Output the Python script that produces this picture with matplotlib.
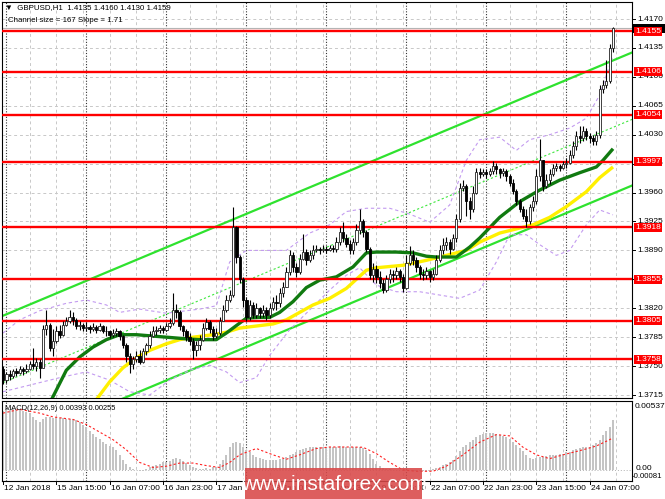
import numpy as np
import matplotlib
matplotlib.use("Agg")
import matplotlib.pyplot as plt
from matplotlib.patches import Rectangle

plt.rcParams['font.family'] = ['Liberation Sans', 'DejaVu Sans']

# prices are kept in pips above 1.3700
BASE = 1.3700
first_open = 47
close_pips = [
    33, 40, 38, 44, 42, 46, 44, 47, 52, 50, 55, 48, 95, 100, 72, 80, 92, 88, 100, 104,
    110, 106, 98, 100, 96, 97, 95, 97, 94, 98, 93, 92, 88, 90, 92, 86, 75, 62, 52, 58,
    62, 55, 68, 75, 86, 92, 94, 96, 94, 98, 102, 118, 115, 98, 92, 85, 80, 70, 75, 82,
    96, 103, 95, 86, 90, 105, 118, 130, 136, 218, 182, 155, 130, 110, 124, 112, 120, 114, 118, 112,
    120, 128, 126, 138, 146, 164, 184, 170, 164, 180, 188, 178, 184, 190, 192, 190, 192, 191, 193, 192,
    200, 212, 205, 198, 190, 200, 215, 225, 212, 192, 160, 168, 158, 150, 142, 155, 162, 160, 165, 158,
    145, 175, 185, 178, 170, 162, 160, 165, 158, 162, 178, 190, 196, 200, 192, 205, 228, 265, 268, 250,
    240, 260, 285, 283, 285, 282, 286, 292, 288, 284, 286, 280, 272, 262, 250, 240, 232, 226, 242, 250,
    280, 300, 268, 275, 282, 290, 292, 290, 294, 296, 305, 316, 328, 326, 334, 328, 326, 322, 330, 385,
    390, 395, 435, 459]
high_pips = [
    50, 43, 45, 47, 48, 50, 49, 52, 56, 72, 60, 58, 100, 118, 102, 95, 98, 100, 104, 110,
    118, 115, 108, 105, 102, 103, 100, 102, 100, 102, 100, 98, 94, 95, 96, 94, 88, 78, 66, 62,
    68, 70, 72, 78, 92, 98, 98, 100, 99, 102, 108, 138, 125, 118, 100, 95, 90, 84, 80, 88,
    102, 108, 106, 98, 96, 110, 124, 136, 142, 242, 220, 185, 158, 134, 130, 128, 126, 122, 124, 122,
    126, 134, 136, 144, 152, 170, 190, 188, 175, 186, 210, 192, 190, 196, 196, 194, 196, 195, 197, 196,
    206, 218, 224, 210, 202, 205, 222, 240, 228, 215, 194, 175, 172, 165, 155, 160, 168, 166, 170, 168,
    162, 185, 195, 190, 182, 172, 168, 170, 166, 168, 184, 196, 205, 206, 204, 210, 234, 272, 275, 270,
    255, 268, 290, 290, 289, 288, 290, 298, 296, 290, 290, 288, 282, 276, 264, 252, 244, 240, 246, 256,
    288, 325, 300, 282, 288, 295, 296, 295, 298, 302, 312, 322, 334, 340, 340, 338, 332, 330, 334, 390,
    396, 420, 440, 460]
low_pips = [
    28, 30, 33, 36, 38, 40, 39, 42, 45, 47, 44, 35, 48, 88, 68, 62, 78, 84, 86, 98,
    102, 100, 95, 94, 92, 93, 90, 93, 90, 92, 90, 86, 84, 85, 87, 82, 72, 55, 42, 46,
    55, 52, 54, 64, 72, 85, 88, 90, 90, 92, 96, 100, 108, 94, 86, 80, 75, 58, 62, 70,
    80, 94, 90, 82, 84, 88, 104, 116, 128, 134, 175, 150, 122, 104, 106, 108, 108, 108, 110, 106,
    108, 118, 118, 122, 134, 146, 160, 164, 158, 162, 178, 172, 176, 180, 188, 186, 188, 187, 189, 188,
    188, 196, 200, 194, 186, 186, 196, 210, 206, 188, 155, 152, 150, 144, 138, 140, 150, 152, 155, 152,
    140, 145, 172, 172, 164, 156, 154, 156, 152, 154, 160, 176, 186, 190, 186, 190, 200, 224, 262, 232,
    228, 236, 258, 278, 280, 278, 280, 282, 282, 278, 280, 274, 268, 258, 245, 236, 228, 218, 222, 238,
    246, 274, 262, 266, 270, 280, 286, 286, 288, 290, 294, 302, 312, 320, 322, 324, 320, 318, 318, 326,
    380, 386, 392, 430]

# moving averages and envelope bands, read at bar indices
green_i = [14, 19, 23, 27, 31, 35, 40, 49, 55, 59, 64, 67, 71, 73, 77, 80, 83, 87, 91, 95,
           100, 105, 109, 112, 118, 123, 127, 130, 136, 140, 143, 149, 155, 161, 167, 173, 178, 180, 183]
green_p = [5, 45, 61, 73, 82, 88, 88, 85, 83, 82, 82, 90, 102, 108, 109, 109, 115, 128, 145, 154,
           158, 170, 187, 188, 188, 187, 183, 182, 182, 194, 205, 230, 249, 263, 275, 284, 291, 299, 313]
yellow_i = [27, 32, 36, 40, 44, 49, 53, 57, 63, 67, 71, 77, 81, 85, 89, 93, 98, 103, 109, 112,
            120, 127, 133, 139, 143, 149, 155, 159, 164, 169, 175, 179, 183]
yellow_p = [4, 31, 48, 60, 69, 77, 82, 85, 88, 91, 96, 99, 101, 106, 115, 124, 132, 144, 166, 169,
            172, 178, 184, 190, 200, 211, 217, 221, 230, 243, 261, 278, 291]
upper_i = [0, 5, 11, 19, 25, 31, 35, 41, 49, 59, 64, 68, 73, 85, 92, 98, 103, 109, 116, 122,
           128, 134, 139, 143, 149, 154, 158, 164, 170, 175, 179, 183]
upper_p = [90, 106, 117, 126, 130, 124, 115, 119, 114, 119, 123, 176, 190, 190, 211, 221, 237, 241, 241, 234,
           224, 245, 299, 324, 327, 311, 324, 330, 338, 350, 378, 426]
lower_i = [0, 8, 17, 25, 32, 38, 44, 50, 56, 62, 67, 71, 76, 80, 86, 92, 98, 103, 107, 112,
           118, 125, 131, 137, 143, 148, 152, 157, 161, 166, 170, 175, 179, 183]
lower_p = [19, 27, 36, 43, 33, 19, 15, 33, 45, 51, 43, 30, 36, 63, 94, 118, 142, 160, 169, 148,
           140, 140, 136, 132, 142, 176, 209, 209, 197, 184, 190, 221, 239, 233]

# regression channel (start bar, end bar) in pips
chan_i = [0, 189]
chan_upper = [111, 430]
chan_mid = [30, 349]
chan_lower = [-50, 269]

levels = [1.4155, 1.4106, 1.4054, 1.3997, 1.3918, 1.3855, 1.3805, 1.3758]
price_ticks = [1.3715, 1.3750, 1.3785, 1.3820, 1.3855, 1.3890, 1.3925, 1.3960,
               1.3995, 1.4030, 1.4065, 1.4100, 1.4135, 1.4170]
bid = 1.4159

# MACD histogram (1e-5 units) and signal line
macd_hist = [
    470, 480, 485, 480, 478, 475, 470, 460, 450, 420, 395, 380, 400, 420, 420, 415, 410, 412, 408, 405,
    402, 400, 395, 380, 360, 340, 310, 285, 265, 245, 225, 205, 190, 180, 160, 120, 80, 50, 20, 5,
    0, -5, -5, 5, 20, 35, 40, 50, 60, 65, 75, 90, 95, 85, 70, 55, 40, 20, 15, 10,
    10, 15, 10, 20, 25, 50, 80, 120, 180, 215, 225, 210, 180, 160, 140, 120, 105, 95, 85, 80,
    78, 80, 82, 85, 90, 100, 120, 130, 140, 155, 170, 175, 180, 182, 185, 185, 185, 183, 182, 185,
    185, 188, 185, 182, 180, 182, 185, 182, 175, 160, 130, 85, 50, 30, 15, 8, 5, 2, 0, -3,
    -8, -5, -3, -5, -8, -10, -10, -8, -5, 5, 15, 25, 40, 50, 65, 80, 110, 150, 180, 200,
    220, 240, 260, 275, 285, 290, 292, 290, 285, 278, 270, 260, 245, 225, 200, 175, 150, 120, 95, 90,
    95, 100, 105, 110, 115, 120, 122, 125, 130, 140, 145, 155, 165, 175, 180, 185, 185, 195, 210, 240,
    280, 310, 340, 393]
sig_i = [0, 5, 11, 15, 21, 25, 29, 33, 37, 41, 45, 49, 53, 57, 61, 65, 68, 71, 76, 81,
         85, 89, 94, 98, 104, 108, 112, 116, 120, 124, 129, 133, 138, 143, 148, 152, 156, 160, 164, 168,
         174, 178, 182, 183]
sig_v = [450, 480, 450, 420, 400, 360, 300, 240, 160, 60, 20, 30, 55, 55, 35, 20, 60, 120, 170, 120,
         85, 120, 170, 182, 182, 180, 130, 60, 0, -10, -10, 30, 120, 220, 280, 270, 180, 120, 90, 120,
         160, 190, 240, 255]

date_ticks = list(range(0, 177, 16))
date_labels = ["12 Jan 2018", "15 Jan 15:00", "16 Jan 07:00", "16 Jan 23:00", "17 Jan 15:00",
               "18 Jan 07:00", "18 Jan 23:00", "19 Jan 15:00", "22 Jan 07:00", "22 Jan 23:00",
               "23 Jan 15:00", "24 Jan 07:00"]
day_starts = list(range(1, 184, 24))


def pips(p):
    return BASE + np.asarray(p, dtype=float) / 10000.0


close = pips(close_pips)
high = pips(high_pips)
low = pips(low_pips)
opn = np.r_[pips(first_open), close[:-1]]
idx = np.arange(len(close))

W, H = 665, 499
fig = plt.figure(figsize=(W / 100, H / 100), dpi=100)
fig.patch.set_facecolor('white')


def rect(x0, y0, x1, y1):
    return [x0 / W, 1 - y1 / H, (x1 - x0) / W, (y1 - y0) / H]


ax = fig.add_axes(rect(2, 2, 632, 398))
ax2 = fig.add_axes(rect(2, 401, 632, 481))
for a in (ax, ax2):
    a.set_xlim(-0.3, 188.7)
    a.set_xticks([])
    a.set_yticks([])
    for s in a.spines.values():
        s.set_color('black')
        s.set_linewidth(0.8)
ax.set_ylim(1.37114, 1.41906)
ax2.set_ylim(-0.00087, 0.00546)

grid_kw = dict(color='#c8c8c8', lw=0.7, ls=(0, (3, 3)), zorder=0)
for p in price_ticks:
    ax.axhline(p, **grid_kw)
for g in range(8, 189, 8):
    ax.axvline(g, **grid_kw)
    ax2.axvline(g, **grid_kw)
for d in day_starts:
    ax.axvline(d, color='#333333', lw=0.8, ls=(0, (1, 1.5)), zorder=1)
    ax2.axvline(d, color='#333333', lw=0.8, ls=(0, (1, 1.5)), zorder=1)

# bid line
ax.axhline(bid, color='#b4b4b4', lw=0.8, zorder=1)

# regression channel
ax.plot(chan_i, pips(chan_upper), color='#2ee22e', lw=1.6, zorder=2)
ax.plot(chan_i, pips(chan_lower), color='#2ee22e', lw=1.6, zorder=2)
ax.plot(chan_i, pips(chan_mid), color='#3ee83e', lw=0.8, ls=(0, (2, 2)), zorder=2)

# envelope bands
ax.plot(upper_i, pips(upper_p), color='#c39bf0', lw=0.8, ls=(0, (3, 2.5)), zorder=2)
ax.plot(lower_i, pips(lower_p), color='#c39bf0', lw=0.8, ls=(0, (3, 2.5)), zorder=2)

# moving averages
ax.plot(yellow_i, pips(yellow_p), color='#fff000', lw=2.4, zorder=3, solid_capstyle='butt')
ax.plot(green_i, pips(green_p), color='#107a10', lw=2.4, zorder=3, solid_capstyle='butt')

# support / resistance levels
for lv in levels:
    ax.axhline(lv, color='#ff0000', lw=1.7, zorder=4)

# candles
ax.vlines(idx, low, high, color='black', lw=0.8, zorder=5)
up = close >= opn
body = np.maximum(np.abs(close - opn), 0.00003)
bottom = np.minimum(close, opn)
ax.bar(idx[up], body[up], bottom=bottom[up], width=0.7, color='white',
       edgecolor='#222222', linewidth=0.6, zorder=6)
ax.bar(idx[~up], body[~up], bottom=bottom[~up], width=0.7, color='black',
       edgecolor='black', linewidth=0.6, zorder=6)

# MACD
ax2.axhline(0, color='#b0b0b0', lw=0.7, ls=(0, (1, 2)), zorder=0)
ax2.bar(idx, np.array(macd_hist) * 1e-5, width=0.62, color='#c4c4c4', zorder=2)
ax2.plot(sig_i, np.array(sig_v) * 1e-5, color='#ff2020', lw=0.8, ls=(0, (2, 2)), zorder=3)

fig.canvas.draw()


def fig_y(a, v):
    return a.transData.transform((0, v))[1] / H


def fig_x(a, i):
    return a.transData.transform((i, 0))[0] / W


FS = 6.0

# price scale
for p in price_ticks:
    fy = fig_y(ax, p)
    fig.lines.append(plt.Line2D([632 / W, 635 / W], [fy, fy], color='black', lw=0.7,
                                transform=fig.transFigure))
    fig.text(637 / W, fy, f'{p:.4f}', fontsize=FS, va='center', ha='left')

fy = fig_y(ax, bid)
fig.patches.append(Rectangle((633 / W, fy - 4.5 / H), 32 / W, 9 / H, facecolor='black',
                             transform=fig.transFigure, zorder=5))
for lv in levels:
    fy = fig_y(ax, lv)
    fig.patches.append(Rectangle((634 / W, fy - 4.5 / H), 28 / W, 9 / H, facecolor='#ff0000',
                                 edgecolor='none', transform=fig.transFigure, zorder=6))
    fig.text(635.5 / W, fy, f'{lv:.4f}', fontsize=FS, va='center', ha='left', color='white', zorder=7)

# MACD scale
fig.text(635 / W, 1 - 406 / H, '0.00537', fontsize=FS, va='center', ha='left')
fig.text(636 / W, 1 - 469 / H, '0.00', fontsize=FS, va='center', ha='left')
fig.text(632 / W, 1 - 476 / H, '-0.00081', fontsize=5.6, va='center', ha='left')

# time axis
for t, lab in zip(date_ticks, date_labels):
    fx = fig_x(ax2, t)
    fig.lines.append(plt.Line2D([fx, fx], [1 - 481 / H, 1 - 484 / H], color='black', lw=0.7,
                                transform=fig.transFigure))
    fig.text(fx + 1 / W, 1 - 489 / H, lab, fontsize=FS, va='center', ha='left')

# header texts
fig.text(5 / W, 1 - 8 / H, '\u25bc  GBPUSD,H1  1.4135 1.4160 1.4130 1.4159', fontsize=5.7, va='center')
fig.text(8 / W, 1 - 20 / H, 'Channel size = 167 Slope = 1.71', fontsize=5.7, va='center')
fig.text(5 / W, 1 - 408 / H, 'MACD(12,26,9) 0.00393 0.00255', fontsize=5.4, va='center')

# watermark
fig.patches.append(Rectangle((245 / W, 0), 177 / W, 31 / H, facecolor='#d94848', alpha=0.88,
                             edgecolor='none', transform=fig.transFigure, zorder=8))
fig.text(334 / W, 1 - 484 / H, 'www.instaforex.com', fontsize=15, color='white',
         ha='center', va='center', zorder=9)

fig.savefig('out.png', dpi=100)
